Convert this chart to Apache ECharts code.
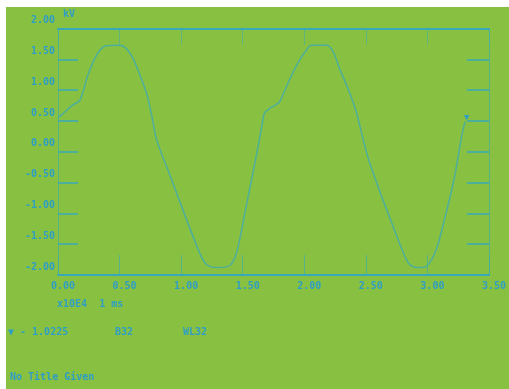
<!DOCTYPE html>
<html><head><meta charset="utf-8">
<script src="https://cdn.jsdelivr.net/npm/echarts@6/dist/echarts.min.js"></script>
<style>
html,body{margin:0;padding:0;background:#fff;}
#c{position:absolute;left:0;top:0;width:509px;height:389px;
background:linear-gradient(#88c142,#88c142) 6px 7px/503px 382px no-repeat,#ffffff;}
</style></head><body><div id="c"></div>
<script>
// time in ms
const timeMs = [0,0.057,0.113,0.178,0.243,0.300,0.340,0.389,0.486,0.543,0.608,0.664,0.721,0.762,0.802,0.907,1.029,1.150,1.207,1.296,1.393,1.450,1.515,1.572,1.612,1.653,1.677,1.718,1.758,1.799,1.880,1.961,2.017,2.058,2.187,2.236,2.285,2.366,2.422,2.511,2.609,2.706,2.795,2.852,2.933,2.998,3.071,3.135,3.216,3.281,3.306];
// voltage in kV
const voltageKV = [0.55,0.65,0.75,0.84,1.25,1.52,1.65,1.72,1.73,1.70,1.52,1.25,0.94,0.58,0.19,-0.37,-1.02,-1.64,-1.83,-1.88,-1.85,-1.64,-1.02,-0.45,-0.05,0.39,0.63,0.70,0.75,0.81,1.17,1.49,1.65,1.73,1.73,1.62,1.36,0.97,0.65,-0.05,-0.62,-1.13,-1.59,-1.82,-1.88,-1.85,-1.59,-1.13,-0.45,0.28,0.49];
const xTicks = [0,0.5,1,1.5,2,2.5,3,3.5];
const yTicks = [-2,-1.5,-1,-0.5,0,0.5,1,1.5,2];
const yUnit = 'kV';
const xUnitText = 'x10E4  1 ms';
const infoTexts = ['\u25BC - 1.0225', 'B32', 'WL32'];
const titleText = 'No Title Given';

const AX = '#38a9b9';
const TX = '#2f9ec4';
const FONT = 'DejaVu Sans Mono';
const pts = timeMs.map((t,i)=>[t, voltageKV[i]]);
const fmt = v => v.toFixed(2);

const chart = echarts.init(document.getElementById('c'), null, {renderer:'canvas'});
chart.setOption({
  backgroundColor:'transparent',
  animation:false,
  grid:{left:58, right:19, top:28.6, bottom:114},
  xAxis:[{
    type:'value', min:xTicks[0], max:xTicks[xTicks.length-1], interval:0.5, position:'bottom',
    axisLine:{show:true, onZero:false, lineStyle:{color:AX, width:2}},
    axisTick:{show:true, inside:true, length:20, lineStyle:{color:AX, width:1, opacity:0.6}},
    splitLine:{show:false},
    axisLabel:{color:TX, fontFamily:FONT, fontSize:10, fontWeight:'bold', margin:6, padding:[0,0,0,10], formatter:fmt}
  },{
    type:'value', min:xTicks[0], max:xTicks[xTicks.length-1], interval:0.5, position:'top',
    axisLine:{show:true, onZero:false, lineStyle:{color:AX, width:2}},
    axisTick:{show:true, inside:true, length:16, lineStyle:{color:AX, width:1, opacity:0.5}},
    splitLine:{show:false}, axisLabel:{show:false}
  }],
  yAxis:[{
    type:'value', min:yTicks[0], max:yTicks[yTicks.length-1], interval:0.5, position:'left',
    axisLine:{show:true, onZero:false, lineStyle:{color:AX, width:1, opacity:0.6}},
    axisTick:{show:true, inside:true, length:20, lineStyle:{color:AX, width:1.5}},
    splitLine:{show:false},
    axisLabel:{color:TX, fontFamily:FONT, fontSize:10, fontWeight:'bold', margin:3, verticalAlign:'bottom', padding:[0,0,3,0], formatter:fmt}
  },{
    type:'value', min:yTicks[0], max:yTicks[yTicks.length-1], interval:0.5, position:'right',
    axisLine:{show:true, onZero:false, lineStyle:{color:AX, width:1, opacity:0.6}},
    axisTick:{show:true, inside:true, length:22, lineStyle:{color:AX, width:1.5}},
    splitLine:{show:false}, axisLabel:{show:false}
  }],
  graphic:[
    {type:'text', left:63, top:9, style:{text:yUnit, fill:TX, font:'bold 10px '+FONT}},
    {type:'text', left:57, top:299, style:{text:xUnitText, fill:TX, font:'bold 10px '+FONT}},
    {type:'text', left:8, top:327, style:{text:infoTexts[0], fill:TX, font:'bold 10px '+FONT}},
    {type:'text', left:115, top:327, style:{text:infoTexts[1], fill:TX, font:'bold 10px '+FONT}},
    {type:'text', left:183, top:327, style:{text:infoTexts[2], fill:TX, font:'bold 10px '+FONT}},
    {type:'text', left:10, top:372, style:{text:titleText, fill:TX, font:'bold 10px '+FONT}},
    {type:'text', left:464, top:113, style:{text:'\u25BC', fill:TX, font:'9px '+FONT}}
  ],
  series:[{
    type:'line', data:pts, xAxisIndex:0, yAxisIndex:0,
    showSymbol:false, smooth:0.3,
    lineStyle:{color:'#4dae9c', width:1.5}
  }]
});
</script></body></html>
